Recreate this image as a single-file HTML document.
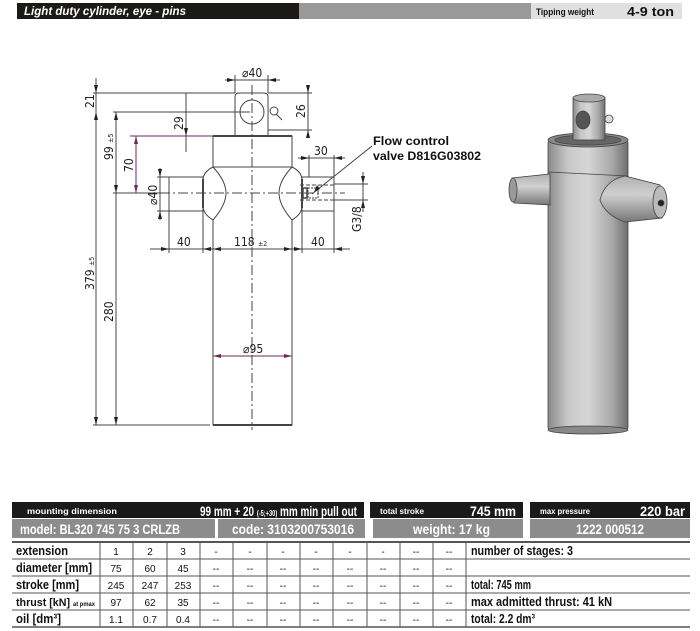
<!DOCTYPE html>
<html><head><meta charset="utf-8"><style>
html,body{margin:0;padding:0;background:#fff;}
body{width:700px;height:631px;overflow:hidden;position:relative;font-family:"Liberation Sans",sans-serif;}
svg{position:absolute;left:0;top:0;}
.b{font-weight:bold;}
</style></head><body>
<svg width="700" height="631" viewBox="0 0 700 631" xmlns="http://www.w3.org/2000/svg" font-family="Liberation Sans, sans-serif">
<defs>
<linearGradient id="cyl" x1="0" x2="1" y1="0" y2="0">
<stop offset="0" stop-color="#8a8a8a"/><stop offset="0.25" stop-color="#c8c8c8"/><stop offset="0.5" stop-color="#d6d6d6"/><stop offset="0.8" stop-color="#a8a8a8"/><stop offset="1" stop-color="#6e6e6e"/>
</linearGradient>
<linearGradient id="pin" x1="0" x2="0" y1="0" y2="1">
<stop offset="0" stop-color="#b0b0b0"/><stop offset="0.4" stop-color="#d0d0d0"/><stop offset="1" stop-color="#777"/>
</linearGradient>
</defs>
<rect x="17" y="3" width="282" height="16" fill="#1c1a19"/>
<rect x="299" y="3" width="232" height="16" fill="#999"/>
<rect x="531" y="3" width="151" height="16" fill="#e0e0e0"/>
<text x="24" y="15" fill="#fff" font-size="12" class="b" font-style="italic" textLength="162" lengthAdjust="spacingAndGlyphs">Light duty cylinder, eye - pins</text>
<text x="536" y="15" fill="#111" font-size="9" class="b" textLength="58" lengthAdjust="spacingAndGlyphs">Tipping weight</text>
<text x="627" y="16" fill="#111" font-size="13" class="b" textLength="47" lengthAdjust="spacingAndGlyphs">4-9 ton</text>

<g stroke="#444" stroke-width="1" fill="none">
<path d="M235 136 V97 Q235 93 239 93 H264 Q268 93 268 97 V136" fill="#fff"/>
<circle cx="252" cy="112" r="12"/>
<rect x="213" y="136" width="79" height="31" fill="#fff"/>
<line x1="213" y1="136" x2="292" y2="136" stroke-width="2"/>
<rect x="213" y="167" width="79" height="258" fill="#fff"/>
<line x1="213" y1="425" x2="292" y2="425" stroke-width="2"/>
<rect x="169" y="177" width="34" height="34"/>
<rect x="302" y="177" width="32" height="34"/>
<path d="M213 167 Q203 172 203 180 V206 Q203 214 213 220 Q226 205 226 193 Q226 181 213 167 Z" fill="#fff"/>
<path d="M292 167 Q302 172 302 180 V206 Q302 214 292 220 Q279 205 279 193 Q279 181 292 167 Z" fill="#fff"/>
<line x1="203" y1="179" x2="203" y2="208" stroke-width="2"/>
<line x1="302" y1="179" x2="302" y2="208" stroke-width="2"/>
<rect x="303" y="188" width="4" height="10" stroke-width="1.5"/>
<rect x="308" y="188" width="10" height="10" stroke-dasharray="2 1"/>
<line x1="300" y1="185" x2="334" y2="185" stroke-dasharray="4 2"/>
<line x1="300" y1="200" x2="334" y2="200" stroke-dasharray="4 2"/>
<circle cx="274" cy="111" r="4"/><line x1="276" y1="114" x2="282" y2="120"/>
<line x1="252" y1="85" x2="252" y2="430" stroke-dasharray="10 3 2 3"/>
<line x1="160" y1="193" x2="345" y2="193" stroke-dasharray="10 3 2 3"/>
<line x1="93" y1="93" x2="235" y2="93"/>
<line x1="113" y1="112" x2="250" y2="112"/>
<line x1="93" y1="425" x2="210" y2="425"/>
<line x1="113" y1="193" x2="169" y2="193"/>
<line x1="225" y1="80" x2="280" y2="80"/>
<line x1="235" y1="75" x2="235" y2="93"/><line x1="268" y1="75" x2="268" y2="93"/>
<line x1="268" y1="93" x2="312" y2="93"/><line x1="268" y1="130" x2="312" y2="130"/>
<line x1="308" y1="85" x2="308" y2="138"/>
<line x1="186" y1="93" x2="186" y2="152"/>
<line x1="96" y1="78" x2="96" y2="425"/>
<line x1="116" y1="112" x2="116" y2="425"/>
<line x1="150" y1="249" x2="350" y2="249"/>
<line x1="169" y1="211" x2="169" y2="253"/><line x1="203" y1="211" x2="203" y2="253"/>
<line x1="213" y1="220" x2="213" y2="253"/><line x1="292" y1="220" x2="292" y2="253"/>
<line x1="302" y1="211" x2="302" y2="253"/><line x1="334" y1="211" x2="334" y2="253"/>
<line x1="298" y1="158" x2="345" y2="158"/>
<line x1="309" y1="155" x2="309" y2="177"/><line x1="334" y1="155" x2="334" y2="177"/>
<line x1="334" y1="184" x2="368" y2="184"/><line x1="334" y1="200" x2="368" y2="200"/>
<line x1="363" y1="172" x2="363" y2="212"/>
<line x1="157" y1="177" x2="169" y2="177"/><line x1="157" y1="211" x2="169" y2="211"/>
<line x1="160" y1="168" x2="160" y2="220"/>
<line x1="312" y1="194" x2="372" y2="146"/>
</g>
<g stroke="#6a2a5a" stroke-width="1" fill="none">
<line x1="130" y1="136" x2="213" y2="136"/>
<line x1="136" y1="136" x2="136" y2="193"/>
<line x1="213" y1="356" x2="292" y2="356"/>
</g>
<g fill="#222">
<path d="M96 93 l-2 -8 h4z M96 112 l-2 8 h4z M96 425 l-2 -8 h4z M116 112 l-2 8 h4z M116 193 l-2 -8 h4z M116 425 l-2 -8 h4z M186 136 l-2 -8 h4z M308 93 l-2 -8 h4z M308 130 l-2 8 h4z M363 184 l-2 -8 h4z M363 200 l-2 8 h4z M160 177 l-2 -8 h4z M160 211 l-2 8 h4z"/>
<path d="M235 80 l-8 -2 v4z M268 80 l8 -2 v4z M169 249 l-8 -2 v4z M203 249 l8 -2 v4z M213 249 l8 -2 v4z M292 249 l-8 -2 v4z M302 249 l-8 -2 v4z M334 249 l8 -2 v4z M309 158 l-8 -2 v4z M334 158 l8 -2 v4z M314 192 l3 -7 l3 4z"/>
<path fill="#6a2a5a" d="M136 136 l-2 8 h4z M136 193 l-2 -8 h4z M213 356 l8 -2 v4z M292 356 l-8 -2 v4z"/>
</g>
<g font-family="'DejaVu Sans Condensed','Liberation Sans',sans-serif" font-size="12" fill="#222">
<text x="242" y="77">⌀40</text>
<text x="243" y="353">⌀95</text>
<text x="177" y="246">40</text>
<text x="234" y="246">118 <tspan font-size="7">±2</tspan></text>
<text x="311" y="246">40</text>
<text x="314" y="155">30</text>
<text transform="translate(94,108) rotate(-90)">21</text>
<text transform="translate(305,118) rotate(-90)">26</text>
<text transform="translate(183,130) rotate(-90)">29</text>
<text transform="translate(113,160) rotate(-90)">99 <tspan font-size="7">±5</tspan></text>
<text transform="translate(133,172) rotate(-90)">70</text>
<text transform="translate(157,205) rotate(-90)">⌀40</text>
<text transform="translate(361,232) rotate(-90)">G3/8</text>
<text transform="translate(94,290) rotate(-90)">379 <tspan font-size="7">±5</tspan></text>
<text transform="translate(113,322) rotate(-90)">280</text>
</g>
<text x="373" y="145" font-size="12" class="b" fill="#111" textLength="76" lengthAdjust="spacingAndGlyphs">Flow control</text>
<text x="373" y="160" font-size="12" class="b" fill="#111" textLength="108" lengthAdjust="spacingAndGlyphs">valve D816G03802</text>

<g stroke="#444" stroke-width="0.8">
<rect x="548" y="140" width="80" height="290" rx="3" fill="url(#cyl)"/>
<ellipse cx="588" cy="430" rx="40" ry="4" fill="#888"/>
<ellipse cx="588" cy="140" rx="40" ry="7" fill="#888"/>
<ellipse cx="588" cy="140" rx="33" ry="5" fill="#666"/>
<line x1="548" y1="172" x2="628" y2="176"/>
<rect x="573" y="98" width="32" height="42" fill="url(#cyl)"/>
<ellipse cx="589" cy="98" rx="16" ry="4" fill="#aaa"/>
<ellipse cx="583" cy="120" rx="7" ry="9" fill="#555"/>
<circle cx="609" cy="119" r="4" fill="#ddd"/>
<path d="M512 178 Q510 195 514 203 L550 205 L550 174 Z" fill="url(#pin)"/>
<ellipse cx="513" cy="190" rx="4" ry="12" fill="#999"/>
<path d="M600 200 Q605 180 625 176 L660 185 L662 218 L625 222 Q605 215 600 200 Z" fill="url(#pin)"/>
<ellipse cx="660" cy="202" rx="7" ry="16" fill="#bbb"/>
<circle cx="661" cy="203" r="3" fill="#222"/>
</g>

<rect x="12" y="502" width="352" height="16" fill="#1c1a19"/>
<rect x="370" y="502" width="153" height="16" fill="#1c1a19"/>
<rect x="530" y="502" width="160" height="16" fill="#1c1a19"/>
<rect x="12" y="519" width="203" height="19" fill="#8c8c8c"/>
<rect x="218" y="519" width="147" height="19" fill="#8c8c8c"/>
<rect x="373" y="519" width="150" height="19" fill="#8c8c8c"/>
<rect x="530" y="519" width="160" height="19" fill="#8c8c8c"/>
<g fill="#fff" class="b" font-size="13">
<text x="27" y="514" font-size="8" textLength="90" lengthAdjust="spacingAndGlyphs">mounting dimension</text>
<text x="200" y="516" font-size="14" textLength="157" lengthAdjust="spacingAndGlyphs">99 mm + 20 <tspan font-size="8">(-5;+30)</tspan> mm min pull out</text>
<text x="380" y="514" font-size="8" textLength="44" lengthAdjust="spacingAndGlyphs">total stroke</text>
<text x="470" y="516" font-size="14" textLength="46" lengthAdjust="spacingAndGlyphs">745 mm</text>
<text x="540" y="514" font-size="8" textLength="50" lengthAdjust="spacingAndGlyphs">max pressure</text>
<text x="640" y="516" font-size="14" textLength="45" lengthAdjust="spacingAndGlyphs">220 bar</text>
<text x="20" y="534" font-size="14" textLength="160" lengthAdjust="spacingAndGlyphs">model: BL320 745 75 3 CRLZB</text>
<text x="232" y="534" font-size="14" textLength="122" lengthAdjust="spacingAndGlyphs">code: 3103200753016</text>
<text x="413" y="534" font-size="14" textLength="77" lengthAdjust="spacingAndGlyphs">weight: 17 kg</text>
<text x="576" y="534" font-size="14" textLength="68" lengthAdjust="spacingAndGlyphs">1222 000512</text>
</g>
<g stroke="#555" stroke-width="1">
<line x1="12" y1="542" x2="690" y2="542" stroke-width="2"/>
<line x1="12" y1="559" x2="690" y2="559"/>
<line x1="12" y1="576" x2="690" y2="576"/>
<line x1="12" y1="593" x2="690" y2="593"/>
<line x1="12" y1="610" x2="690" y2="610"/>
<line x1="12" y1="627" x2="690" y2="627" stroke-width="1.5"/>
<path d="M100 542V627M133 542V627M167 542V627M200 542V627M233 542V627M267 542V627M300 542V627M333 542V627M367 542V627M400 542V627M433 542V627M466 542V627"/>
</g>
<g fill="#111" class="b" font-size="13">
<text x="16" y="555" textLength="52" lengthAdjust="spacingAndGlyphs">extension</text>
<text x="16" y="572" textLength="76" lengthAdjust="spacingAndGlyphs">diameter [mm]</text>
<text x="16" y="589" textLength="63" lengthAdjust="spacingAndGlyphs">stroke [mm]</text>
<text x="16" y="606" font-size="11" textLength="79" lengthAdjust="spacingAndGlyphs">thrust [kN] <tspan font-size="6">at pmax</tspan></text>
<text x="16" y="623" textLength="45" lengthAdjust="spacingAndGlyphs">oil [dm³]</text>
<text x="471" y="555" textLength="102" lengthAdjust="spacingAndGlyphs">number of stages: 3</text>
<text x="471" y="589" textLength="60" lengthAdjust="spacingAndGlyphs">total: 745 mm</text>
<text x="471" y="606" textLength="141" lengthAdjust="spacingAndGlyphs">max admitted thrust: 41 kN</text>
<text x="471" y="623" textLength="64" lengthAdjust="spacingAndGlyphs">total: 2.2 dm³</text>
</g>
<g fill="#111" font-size="10" text-anchor="middle">
<text x="116" y="555">1</text><text x="150" y="555">2</text><text x="183" y="555">3</text>
<text x="216" y="555">-</text><text x="250" y="555">-</text><text x="283" y="555">-</text><text x="316" y="555">-</text><text x="350" y="555">-</text><text x="383" y="555">-</text><text x="416" y="555">--</text><text x="449" y="555">--</text>
<text x="116" y="572">75</text><text x="150" y="572">60</text><text x="183" y="572">45</text>
<text x="116" y="589">245</text><text x="150" y="589">247</text><text x="183" y="589">253</text>
<text x="116" y="606">97</text><text x="150" y="606">62</text><text x="183" y="606">35</text>
<text x="116" y="623">1.1</text><text x="150" y="623">0.7</text><text x="183" y="623">0.4</text>
<text x="216" y="572">--</text><text x="250" y="572">--</text><text x="283" y="572">--</text><text x="316" y="572">--</text><text x="350" y="572">--</text><text x="383" y="572">--</text><text x="416" y="572">--</text><text x="449" y="572">--</text>
<text x="216" y="589">--</text><text x="250" y="589">--</text><text x="283" y="589">--</text><text x="316" y="589">--</text><text x="350" y="589">--</text><text x="383" y="589">--</text><text x="416" y="589">--</text><text x="449" y="589">--</text>
<text x="216" y="606">--</text><text x="250" y="606">--</text><text x="283" y="606">--</text><text x="316" y="606">--</text><text x="350" y="606">--</text><text x="383" y="606">--</text><text x="416" y="606">--</text><text x="449" y="606">--</text>
<text x="216" y="623">--</text><text x="250" y="623">--</text><text x="283" y="623">--</text><text x="316" y="623">--</text><text x="350" y="623">--</text><text x="383" y="623">--</text><text x="416" y="623">--</text><text x="449" y="623">--</text>
</g>
</svg>
</body></html>
